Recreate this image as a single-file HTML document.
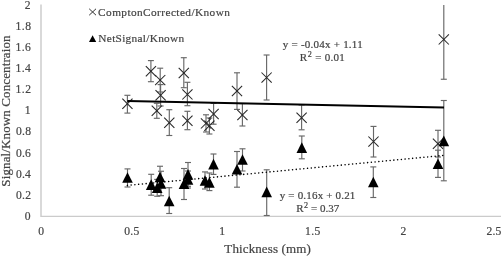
<!DOCTYPE html>
<html><head><meta charset="utf-8"><style>
html,body{margin:0;padding:0;background:#fff;}
body{width:501px;height:256px;overflow:hidden;}
svg{display:block;will-change:transform;}
</style></head><body>
<svg width="501" height="256" viewBox="0 0 501 256">
<rect width="501" height="256" fill="#fff"/>
<line x1="41" y1="4.5" x2="41" y2="216.9" stroke="#d0d0d0" stroke-width="1.6"/>
<line x1="41" y1="216.4" x2="501" y2="216.4" stroke="#cbcbcb" stroke-width="1.2"/>
<g stroke="#686868" stroke-width="1.15" fill="none"><line x1="127.4" y1="95.3" x2="127.4" y2="113.1"/><line x1="124.4" y1="95.3" x2="130.4" y2="95.3"/><line x1="124.4" y1="113.1" x2="130.4" y2="113.1"/><line x1="150.9" y1="60.6" x2="150.9" y2="81.7"/><line x1="147.9" y1="60.6" x2="153.9" y2="60.6"/><line x1="147.9" y1="81.7" x2="153.9" y2="81.7"/><line x1="160.2" y1="68.2" x2="160.2" y2="92.0"/><line x1="157.2" y1="68.2" x2="163.2" y2="68.2"/><line x1="157.2" y1="92.0" x2="163.2" y2="92.0"/><line x1="160.6" y1="84.6" x2="160.6" y2="106.0"/><line x1="157.6" y1="84.6" x2="163.6" y2="84.6"/><line x1="157.6" y1="106.0" x2="163.6" y2="106.0"/><line x1="156.8" y1="103.3" x2="156.8" y2="118.3"/><line x1="153.8" y1="103.3" x2="159.8" y2="103.3"/><line x1="153.8" y1="118.3" x2="159.8" y2="118.3"/><line x1="169.3" y1="109.7" x2="169.3" y2="135.5"/><line x1="166.3" y1="109.7" x2="172.3" y2="109.7"/><line x1="166.3" y1="135.5" x2="172.3" y2="135.5"/><line x1="183.8" y1="57.7" x2="183.8" y2="87.7"/><line x1="180.8" y1="57.7" x2="186.8" y2="57.7"/><line x1="180.8" y1="87.7" x2="186.8" y2="87.7"/><line x1="187.4" y1="82.3" x2="187.4" y2="105.7"/><line x1="184.4" y1="82.3" x2="190.4" y2="82.3"/><line x1="184.4" y1="105.7" x2="190.4" y2="105.7"/><line x1="187.4" y1="111.3" x2="187.4" y2="129.7"/><line x1="184.4" y1="111.3" x2="190.4" y2="111.3"/><line x1="184.4" y1="129.7" x2="190.4" y2="129.7"/><line x1="206.0" y1="114.8" x2="206.0" y2="132.0"/><line x1="203.0" y1="114.8" x2="209.0" y2="114.8"/><line x1="203.0" y1="132.0" x2="209.0" y2="132.0"/><line x1="209.4" y1="118.0" x2="209.4" y2="134.0"/><line x1="206.4" y1="118.0" x2="212.4" y2="118.0"/><line x1="206.4" y1="134.0" x2="212.4" y2="134.0"/><line x1="213.6" y1="103.4" x2="213.6" y2="124.2"/><line x1="210.6" y1="103.4" x2="216.6" y2="103.4"/><line x1="210.6" y1="124.2" x2="216.6" y2="124.2"/><line x1="237.0" y1="72.8" x2="237.0" y2="109.4"/><line x1="234.0" y1="72.8" x2="240.0" y2="72.8"/><line x1="234.0" y1="109.4" x2="240.0" y2="109.4"/><line x1="242.4" y1="103.6" x2="242.4" y2="126.0"/><line x1="239.4" y1="103.6" x2="245.4" y2="103.6"/><line x1="239.4" y1="126.0" x2="245.4" y2="126.0"/><line x1="266.6" y1="55.0" x2="266.6" y2="100.0"/><line x1="263.6" y1="55.0" x2="269.6" y2="55.0"/><line x1="263.6" y1="100.0" x2="269.6" y2="100.0"/><line x1="301.6" y1="105.0" x2="301.6" y2="129.8"/><line x1="298.6" y1="105.0" x2="304.6" y2="105.0"/><line x1="298.6" y1="129.8" x2="304.6" y2="129.8"/><line x1="373.5" y1="126.4" x2="373.5" y2="157.0"/><line x1="370.5" y1="126.4" x2="376.5" y2="126.4"/><line x1="370.5" y1="157.0" x2="376.5" y2="157.0"/><line x1="438.0" y1="130.3" x2="438.0" y2="157.0"/><line x1="435.0" y1="130.3" x2="441.0" y2="130.3"/><line x1="435.0" y1="157.0" x2="441.0" y2="157.0"/><line x1="443.8" y1="5.0" x2="443.8" y2="79.25"/><line x1="440.8" y1="79.25" x2="446.8" y2="79.25"/></g>
<g stroke="#262626" stroke-width="1.05" fill="none"><line x1="122.30" y1="98.60" x2="132.50" y2="108.80"/><line x1="122.30" y1="108.80" x2="132.50" y2="98.60"/><line x1="145.80" y1="66.10" x2="156.00" y2="76.30"/><line x1="145.80" y1="76.30" x2="156.00" y2="66.10"/><line x1="155.10" y1="75.00" x2="165.30" y2="85.20"/><line x1="155.10" y1="85.20" x2="165.30" y2="75.00"/><line x1="155.50" y1="90.20" x2="165.70" y2="100.40"/><line x1="155.50" y1="100.40" x2="165.70" y2="90.20"/><line x1="151.70" y1="105.70" x2="161.90" y2="115.90"/><line x1="151.70" y1="115.90" x2="161.90" y2="105.70"/><line x1="164.20" y1="117.70" x2="174.40" y2="127.90"/><line x1="164.20" y1="127.90" x2="174.40" y2="117.70"/><line x1="178.70" y1="67.90" x2="188.90" y2="78.10"/><line x1="178.70" y1="78.10" x2="188.90" y2="67.90"/><line x1="182.30" y1="89.30" x2="192.50" y2="99.50"/><line x1="182.30" y1="99.50" x2="192.50" y2="89.30"/><line x1="182.30" y1="115.60" x2="192.50" y2="125.80"/><line x1="182.30" y1="125.80" x2="192.50" y2="115.60"/><line x1="200.90" y1="118.30" x2="211.10" y2="128.50"/><line x1="200.90" y1="128.50" x2="211.10" y2="118.30"/><line x1="204.30" y1="120.70" x2="214.50" y2="130.90"/><line x1="204.30" y1="130.90" x2="214.50" y2="120.70"/><line x1="208.50" y1="108.90" x2="218.70" y2="119.10"/><line x1="208.50" y1="119.10" x2="218.70" y2="108.90"/><line x1="231.90" y1="85.90" x2="242.10" y2="96.10"/><line x1="231.90" y1="96.10" x2="242.10" y2="85.90"/><line x1="237.30" y1="109.90" x2="247.50" y2="120.10"/><line x1="237.30" y1="120.10" x2="247.50" y2="109.90"/><line x1="261.50" y1="72.50" x2="271.70" y2="82.70"/><line x1="261.50" y1="82.70" x2="271.70" y2="72.50"/><line x1="296.50" y1="112.70" x2="306.70" y2="122.90"/><line x1="296.50" y1="122.90" x2="306.70" y2="112.70"/><line x1="368.40" y1="136.50" x2="378.60" y2="146.70"/><line x1="368.40" y1="146.70" x2="378.60" y2="136.50"/><line x1="432.90" y1="138.60" x2="443.10" y2="148.80"/><line x1="432.90" y1="148.80" x2="443.10" y2="138.60"/><line x1="438.70" y1="34.30" x2="448.90" y2="44.50"/><line x1="438.70" y1="44.50" x2="448.90" y2="34.30"/></g>
<g stroke="#686868" stroke-width="1.15" fill="none"><line x1="127.5" y1="168.9" x2="127.5" y2="187.0"/><line x1="124.5" y1="168.9" x2="130.5" y2="168.9"/><line x1="124.5" y1="187.0" x2="130.5" y2="187.0"/><line x1="151.2" y1="174.3" x2="151.2" y2="195.2"/><line x1="148.2" y1="174.3" x2="154.2" y2="174.3"/><line x1="148.2" y1="195.2" x2="154.2" y2="195.2"/><line x1="160.0" y1="166.25" x2="160.0" y2="187.5"/><line x1="157.0" y1="166.25" x2="163.0" y2="166.25"/><line x1="157.0" y1="187.5" x2="163.0" y2="187.5"/><line x1="157.2" y1="179.4" x2="157.2" y2="196.25"/><line x1="154.2" y1="179.4" x2="160.2" y2="179.4"/><line x1="154.2" y1="196.25" x2="160.2" y2="196.25"/><line x1="161.0" y1="171.25" x2="161.0" y2="195.7"/><line x1="158.0" y1="171.25" x2="164.0" y2="171.25"/><line x1="158.0" y1="195.7" x2="164.0" y2="195.7"/><line x1="169.2" y1="187.7" x2="169.2" y2="213.5"/><line x1="166.2" y1="187.7" x2="172.2" y2="187.7"/><line x1="166.2" y1="213.5" x2="172.2" y2="213.5"/><line x1="184.0" y1="168.5" x2="184.0" y2="199.5"/><line x1="181.0" y1="168.5" x2="187.0" y2="168.5"/><line x1="181.0" y1="199.5" x2="187.0" y2="199.5"/><line x1="188.0" y1="162.5" x2="188.0" y2="186.3"/><line x1="185.0" y1="162.5" x2="191.0" y2="162.5"/><line x1="185.0" y1="186.3" x2="191.0" y2="186.3"/><line x1="188.0" y1="171.0" x2="188.0" y2="188.0"/><line x1="185.0" y1="171.0" x2="191.0" y2="171.0"/><line x1="185.0" y1="188.0" x2="191.0" y2="188.0"/><line x1="205.0" y1="171.9" x2="205.0" y2="189.0"/><line x1="202.0" y1="171.9" x2="208.0" y2="171.9"/><line x1="202.0" y1="189.0" x2="208.0" y2="189.0"/><line x1="209.4" y1="173.0" x2="209.4" y2="190.6"/><line x1="206.4" y1="173.0" x2="212.4" y2="173.0"/><line x1="206.4" y1="190.6" x2="212.4" y2="190.6"/><line x1="213.5" y1="154.0" x2="213.5" y2="174.4"/><line x1="210.5" y1="154.0" x2="216.5" y2="154.0"/><line x1="210.5" y1="174.4" x2="216.5" y2="174.4"/><line x1="237.0" y1="151.5" x2="237.0" y2="187.2"/><line x1="234.0" y1="151.5" x2="240.0" y2="151.5"/><line x1="234.0" y1="187.2" x2="240.0" y2="187.2"/><line x1="242.5" y1="148.8" x2="242.5" y2="171.0"/><line x1="239.5" y1="148.8" x2="245.5" y2="148.8"/><line x1="239.5" y1="171.0" x2="245.5" y2="171.0"/><line x1="266.7" y1="169.8" x2="266.7" y2="215.5"/><line x1="263.7" y1="169.8" x2="269.7" y2="169.8"/><line x1="263.7" y1="215.5" x2="269.7" y2="215.5"/><line x1="301.8" y1="136.0" x2="301.8" y2="158.8"/><line x1="298.8" y1="136.0" x2="304.8" y2="136.0"/><line x1="298.8" y1="158.8" x2="304.8" y2="158.8"/><line x1="373.3" y1="166.9" x2="373.3" y2="197.5"/><line x1="370.3" y1="166.9" x2="376.3" y2="166.9"/><line x1="370.3" y1="197.5" x2="376.3" y2="197.5"/><line x1="438.0" y1="150.2" x2="438.0" y2="177.4"/><line x1="435.0" y1="150.2" x2="441.0" y2="150.2"/><line x1="435.0" y1="177.4" x2="441.0" y2="177.4"/><line x1="443.8" y1="100.5" x2="443.8" y2="180.8"/><line x1="440.8" y1="100.5" x2="446.8" y2="100.5"/><line x1="440.8" y1="180.8" x2="446.8" y2="180.8"/></g>
<g fill="#000"><polygon points="127.50,172.20 122.20,182.80 132.80,182.80"/><polygon points="151.20,179.30 145.90,189.90 156.50,189.90"/><polygon points="160.00,171.70 154.70,182.30 165.30,182.30"/><polygon points="157.20,182.50 151.90,193.10 162.50,193.10"/><polygon points="161.00,178.20 155.70,188.80 166.30,188.80"/><polygon points="169.20,195.70 163.90,206.30 174.50,206.30"/><polygon points="184.00,178.50 178.70,189.10 189.30,189.10"/><polygon points="188.00,169.10 182.70,179.70 193.30,179.70"/><polygon points="188.00,174.20 182.70,184.80 193.30,184.80"/><polygon points="205.00,175.20 199.70,185.80 210.30,185.80"/><polygon points="209.40,177.10 204.10,187.70 214.70,187.70"/><polygon points="213.50,158.80 208.20,169.40 218.80,169.40"/><polygon points="237.00,163.90 231.70,174.50 242.30,174.50"/><polygon points="242.50,154.20 237.20,164.80 247.80,164.80"/><polygon points="266.70,186.60 261.40,197.20 272.00,197.20"/><polygon points="301.80,142.30 296.50,152.90 307.10,152.90"/><polygon points="373.30,176.70 368.00,187.30 378.60,187.30"/><polygon points="438.00,158.50 432.70,169.10 443.30,169.10"/><polygon points="443.80,135.60 438.50,146.20 449.10,146.20"/></g>
<line x1="127.3" y1="101.0" x2="444" y2="107.55" stroke="#000" stroke-width="2"/>
<line x1="127.4" y1="185.4" x2="443.75" y2="155.4" stroke="#000" stroke-width="1.55" stroke-linecap="round" stroke-dasharray="0.01 3.76"/>
<g font-family="Liberation Serif" stroke="#444444" stroke-width="0.2"><text x="98.10" y="15.70" font-size="11.3" fill="#444444" textLength="131.80" lengthAdjust="spacing">ComptonCorrected/Known</text><text x="98.35" y="42.40" font-size="11.3" fill="#444444" textLength="85.84" lengthAdjust="spacing">NetSignal/Known</text><text x="282.75" y="48.00" font-size="11.0" fill="#444444" textLength="79.92" lengthAdjust="spacing">y = -0.04x + 1.11</text><text x="299.75" y="61.40" font-size="11.0" fill="#444444" textLength="44.88" lengthAdjust="spacing">R<tspan dx="0.5" dy="-4.2" font-size="8.14">2</tspan><tspan dy="4.2"> = 0.01</tspan></text><text x="279.75" y="199.40" font-size="11.0" fill="#444444" textLength="75.62" lengthAdjust="spacing">y = 0.16x + 0.21</text><text x="296.25" y="212.00" font-size="11.0" fill="#444444" textLength="42.97" lengthAdjust="spacing">R<tspan dx="0.5" dy="-4.2" font-size="8.14">2</tspan><tspan dy="4.2"> = 0.37</tspan></text><text x="224.35" y="253.10" font-size="13.0" fill="#444444" textLength="86.39" lengthAdjust="spacing">Thickness (mm)</text><text x="24.70" y="219.85" font-size="11.6" fill="#444444">0</text><text x="16.00" y="198.75" font-size="11.6" fill="#444444" textLength="15.00" lengthAdjust="spacing">0.2</text><text x="16.00" y="177.65" font-size="11.6" fill="#444444" textLength="14.75" lengthAdjust="spacing">0.4</text><text x="16.00" y="156.55" font-size="11.6" fill="#444444" textLength="14.75" lengthAdjust="spacing">0.6</text><text x="16.00" y="135.45" font-size="11.6" fill="#444444" textLength="15.00" lengthAdjust="spacing">0.8</text><text x="24.83" y="114.48" font-size="11.6" fill="#444444">1</text><text x="15.50" y="93.25" font-size="11.6" fill="#444444" textLength="15.50" lengthAdjust="spacing">1.2</text><text x="15.50" y="72.15" font-size="11.6" fill="#444444" textLength="15.25" lengthAdjust="spacing">1.4</text><text x="15.50" y="51.05" font-size="11.6" fill="#444444" textLength="15.25" lengthAdjust="spacing">1.6</text><text x="15.50" y="29.95" font-size="11.6" fill="#444444" textLength="15.50" lengthAdjust="spacing">1.8</text><text x="24.78" y="8.98" font-size="11.6" fill="#444444">2</text><text x="38.30" y="234.75" font-size="11.6" fill="#444444">0</text><text x="124.37" y="234.75" font-size="11.6" fill="#444444" textLength="14.85" lengthAdjust="spacing">0.5</text><text x="219.23" y="234.88" font-size="11.6" fill="#444444">1</text><text x="304.93" y="234.75" font-size="11.6" fill="#444444" textLength="15.35" lengthAdjust="spacing">1.5</text><text x="400.52" y="234.88" font-size="11.6" fill="#444444">2</text><text x="486.48" y="234.75" font-size="11.6" fill="#444444" textLength="14.85" lengthAdjust="spacing">2.5</text><text transform="translate(10,186.65) rotate(-90)" x="0" y="0" font-size="13.0" fill="#444444" textLength="151.26" lengthAdjust="spacing">Signal/Known Concentraion</text></g>
<g stroke="#333333" stroke-width="1.0"><line x1="89.2" y1="8.8" x2="96" y2="15.2"/><line x1="89.2" y1="15.2" x2="96" y2="8.8"/></g>
<polygon points="92.6,35.2 89,42.1 96.2,42.1" fill="#000"/>
</svg>
</body></html>
